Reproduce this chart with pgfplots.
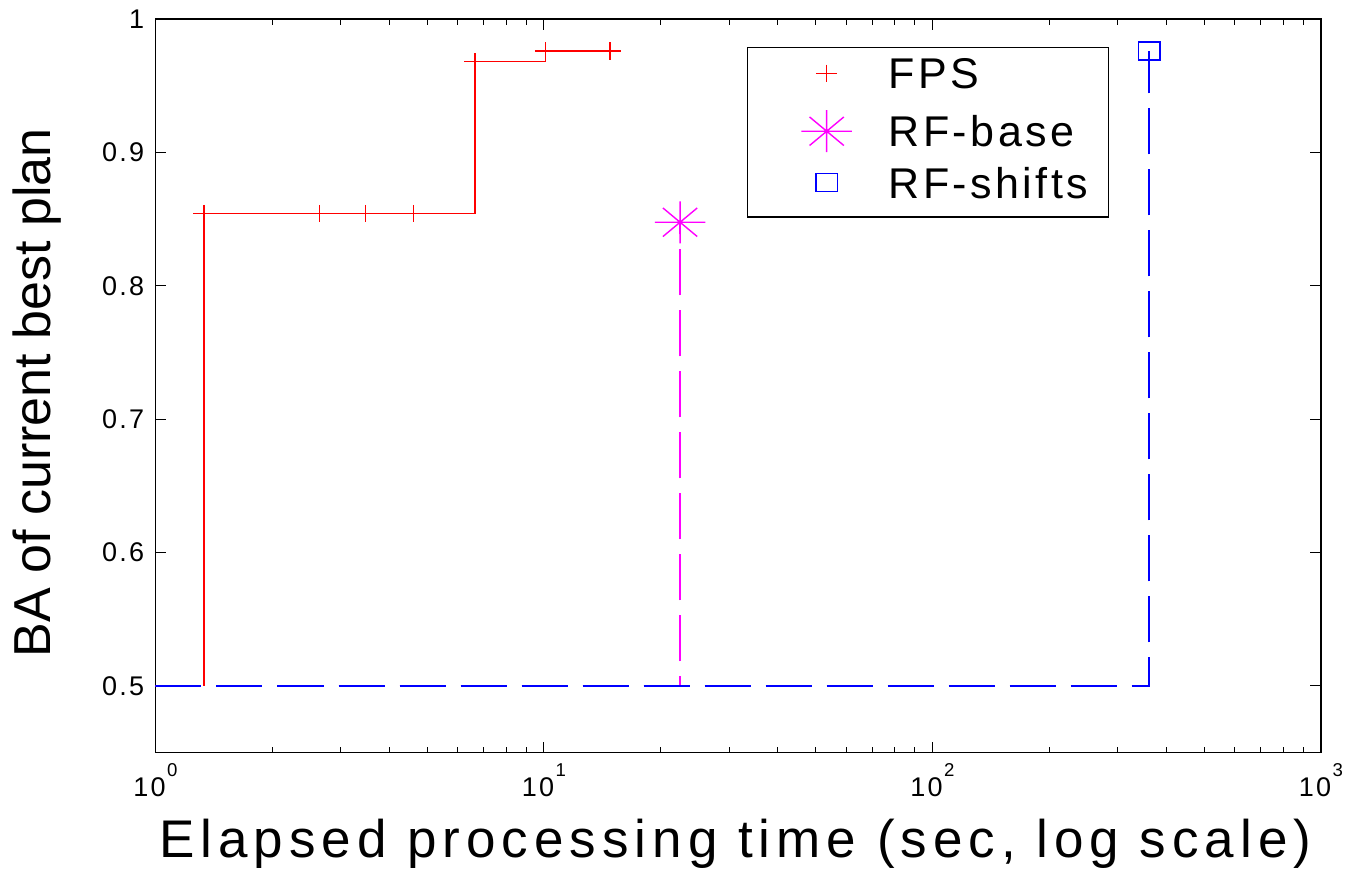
\documentclass[border=0pt]{standalone}
\usepackage{fontspec}
\setmainfont{Liberation Sans}
\newfontfamily\tickfont[LetterSpace=8]{Liberation Sans}
\newfontfamily\xlabfont[LetterSpace=11.3]{Liberation Sans}
\newfontfamily\legfont[LetterSpace=8]{Liberation Sans}
\usepackage{pgfplots}
\pgfplotsset{compat=1.18}
\definecolor{mred}{RGB}{255,0,0}
\definecolor{mmag}{RGB}{255,0,255}
\definecolor{mblue}{RGB}{0,0,255}

\pgfdeclareplotmark{mstar}{%
  \pgfpathmoveto{\pgfqpoint{-\pgfplotmarksize}{0pt}}\pgfpathlineto{\pgfqpoint{\pgfplotmarksize}{0pt}}%
  \pgfpathmoveto{\pgfqpoint{0pt}{-\pgfplotmarksize}}\pgfpathlineto{\pgfqpoint{0pt}{\pgfplotmarksize}}%
  \pgfpathmoveto{\pgfqpoint{-0.68\pgfplotmarksize}{-0.68\pgfplotmarksize}}\pgfpathlineto{\pgfqpoint{0.68\pgfplotmarksize}{0.68\pgfplotmarksize}}%
  \pgfpathmoveto{\pgfqpoint{-0.68\pgfplotmarksize}{0.68\pgfplotmarksize}}\pgfpathlineto{\pgfqpoint{0.68\pgfplotmarksize}{-0.68\pgfplotmarksize}}%
  \pgfusepathqstroke}

\pgfplotsset{mylegimg/.style={legend image code/.code={\path[draw=none,fill=none] (-29.5pt,-4pt) rectangle (31pt,15pt); \draw[##1] plot coordinates {(0pt,7.7pt)};}}}

\newcommand{\pw}[1]{10\hspace{0.8pt}\raisebox{10pt}{\fontsize{9.3}{9.3}\selectfont #1}}

\begin{document}
\begin{tikzpicture}
\begin{axis}[
  at={(0,0)}, anchor=south west,
  scale only axis, width=582.75pt, height=366.75pt,
  xmode=log, xmin=1, xmax=1000, ymin=0.45, ymax=1,
  xtick={1,10,100,1000}, xticklabels={\pw{0},\pw{1},\pw{2},\pw{3}},
  minor xtick={2,3,4,5,6,7,8,9,20,30,40,50,60,70,80,90,200,300,400,500,600,700,800,900},
  ytick={0.5,0.6,0.7,0.8,0.9,1}, yticklabels={0.5,0.6,0.7,0.8,0.9,1},
  tick align=inside, xtick pos=both, ytick pos=both,
  major tick length=5.5pt, minor tick length=3pt,
  axis line style={line width=0.8pt},
  every tick/.style={black, line width=0.5pt},
  ticklabel style={font=\tickfont\fontsize{13.5}{14}\selectfont},
  xticklabel style={inner sep=0pt, yshift=-5.25pt},
  yticklabel style={inner sep=0pt, xshift=-5.5pt},
  xlabel={\xlabfont\fontsize{26.5}{27}\selectfont Elapsed processing time (sec, log scale)},
  xlabel style={at={(axis description cs:0.4975,-0.1425)}, anchor=base},
  ylabel={\fontsize{26}{27}\selectfont BA of current best plan},
  ylabel style={at={(axis description cs:-0.0905,0.4905)}, anchor=base},
  legend style={at={(axis description cs:0.5075,0.9618)}, anchor=north west,
    draw=black, line width=0.7pt, inner xsep=10pt, inner ysep=5.5pt,
    row sep=6.75pt, cells={anchor=base west},
    nodes={inner sep=0pt, text height=15pt, text depth=4pt},
    font=\legfont\fontsize{21.5}{22}\selectfont},
]
% dashed baselines
\addplot[mmag, line width=0.7pt, dash pattern=on 23pt off 7.5pt, forget plot]
  coordinates {(1,0.5) (22.4,0.5) (22.4,0.8476)};
\addplot[mblue, line width=0.7pt, dash pattern=on 23pt off 7.5pt, forget plot]
  coordinates {(1,0.5) (361,0.5) (361,0.976)};
% FPS step line
\addplot[mred, line width=0.7pt, forget plot]
  coordinates {(1.333,0.5) (1.333,0.8542) (6.64,0.8542) (6.64,0.968) (10.1,0.968) (10.1,0.976) (14.8,0.976)};
% markers
\addplot[mred, only marks, mark=+, mark size=4.3pt, mark options={xscale=1.25, line width=0.7pt}, mylegimg]
  coordinates {(1.333,0.8542) (2.64,0.8542) (3.47,0.8542) (4.61,0.8542) (6.64,0.968) (10.1,0.976) (14.8,0.976)};
\addlegendentry{FPS}
\addplot[mmag, only marks, mark=mstar, mark size=10.5pt, mark options={xscale=1.2, line width=0.7pt}, mylegimg]
  coordinates {(22.4,0.8476)};
\addlegendentry{RF-base}
\addplot[mblue, only marks, mark=square, mark size=4.5pt, mark options={xscale=1.2, line width=0.7pt}, mylegimg]
  coordinates {(361,0.976)};
\addlegendentry{RF-shifts}
\end{axis}
\pgfresetboundingbox
\path[use as bounding box] (-77.75pt,-58.25pt) rectangle (597.25pt,376.25pt);
\end{tikzpicture}
\end{document}
